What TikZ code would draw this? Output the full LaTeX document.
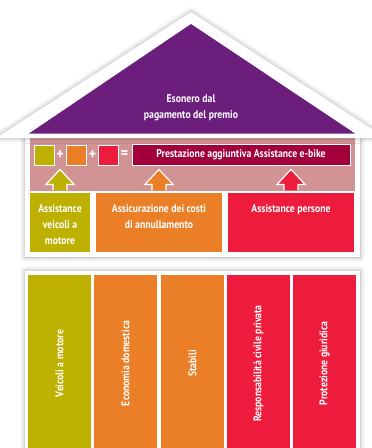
\documentclass[tikz,border=0pt]{standalone}
\usepackage{fontspec}
\setmainfont[FakeStretch=0.87]{PT Sans}
\usetikzlibrary{shadows.blur}

\definecolor{roofpurple}{HTML}{6B1E7C}
\definecolor{bandpink}{HTML}{D29394}
\definecolor{olivegreen}{HTML}{BDB000}
\definecolor{lossorange}{HTML}{EA7F27}
\definecolor{persred}{HTML}{EE1C3C}
\definecolor{ebikered}{HTML}{A2003A}

\tikzset{
  soft/.style={blur shadow={shadow xshift=0pt, shadow yshift=0pt,
      shadow blur radius=5pt, shadow opacity=35}},
  lbl/.style={font=\bfseries\fontsize{11.2}{16}\selectfont, text=white,
      align=center, inner sep=0pt},
  colbox/.style={draw=white, line width=1.2pt, minimum height=61pt},
  pillar/.style={lbl, draw=none, minimum width=63pt, minimum height=177pt},
  sq/.style={draw=white, line width=1pt, minimum width=20pt, minimum height=20pt},
  sign/.style={text=white, font=\bfseries\fontsize{16}{16}\selectfont, inner sep=0pt}
}

\begin{document}
\begin{tikzpicture}[x=1pt, y=-1pt]

\newcommand\Arrow[2]{%% block arrow out of box #1, colour #2
  \draw[fill=#2, draw=white, line width=1.2pt]
    ([xshift=-7pt, yshift=1pt]#1.north) -- ++(0,-6) -- ++(-7,0)
    -- ++(14,-15) -- ++(14,15) -- ++(-7,0) -- ++(0,6);}

\useasboundingbox (0,0) rectangle (372,448); %% page

%% lower block
\draw[fill=white, draw=none, soft] (25,271) rectangle (360,470);
\node[pillar, fill=olivegreen] (vei) at (59.5,363.5) {};
\node[pillar, fill=lossorange] (eco) at (125.5,363.5) {};
\node[pillar, fill=lossorange] (sta) at (192.5,363.5) {};
\node[pillar, fill=persred]    (rcp) at (258.5,363.5) {};
\node[pillar, fill=persred]    (pgi) at (324.5,363.5) {};
\node[lbl, rotate=90] at (vei.center) {Veicoli a motore};
\node[lbl, rotate=90] at (eco.center) {Economia domestica};
\node[lbl, rotate=90] at (sta.center) {Stabili};
\node[lbl, rotate=90] at (rcp.center) {Responsabilità civile privata};
\node[lbl, rotate=90] at (pgi.center) {Protezione giuridica};

%% body
\draw[fill=white, draw=none, soft] (25,128) rectangle (360,257);
\node[draw=white, line width=1.2pt, fill=bandpink, minimum width=327pt,
  minimum height=60pt] (band) at (192.5,162) {};

%% roof
\draw[fill=white, draw=none, soft] (191,12) -- (-4,138) -- (386,138) -- cycle;
\draw[fill=roofpurple, draw=none] (191,24) -- (29,133.5) -- (355,133.5) -- cycle;
\node[lbl] (roof) at (191,107.5) {Esonero dal\\pagamento del premio};

%% boxes
\node[colbox, fill=olivegreen, minimum width=62pt]  (avm) at (60,222.5) {};
\node[colbox, fill=lossorange, minimum width=128pt] (acd) at (159,222.5) {};
\node[colbox, fill=persred, minimum width=128pt]    (ape) at (291,222.5) {};
\node[lbl, anchor=north] at ([yshift=-13pt]avm.north) {Assistance\\veicoli a\\motore};
\node[lbl, anchor=north] at ([yshift=-13pt]acd.north) {Assicurazione dei costi\\di annullamento};
\node[lbl, anchor=north] at ([yshift=-13pt]ape.north) {Assistance persone};

\Arrow{avm}{olivegreen}
\Arrow{acd}{lossorange}
\Arrow{ape}{persred}

%% formula
\node[sq, fill=olivegreen] (sqa) at (44,155) {};
\node[sign] (pla) at (60,155) {+};
\node[sq, fill=lossorange] (sqb) at (76.5,155) {};
\node[sign] (plb) at (92.5,155) {+};
\node[sq, fill=persred] (sqc) at (108,155) {};
\node[sign] (eq) at (124.5,155) {=};
\node[draw=white, line width=1pt, fill=ebikered, minimum width=218pt,
  minimum height=21pt, lbl] (ebike) at (241,154.5) {Prestazione aggiuntiva Assistance e-bike};

\end{tikzpicture}
\end{document}
